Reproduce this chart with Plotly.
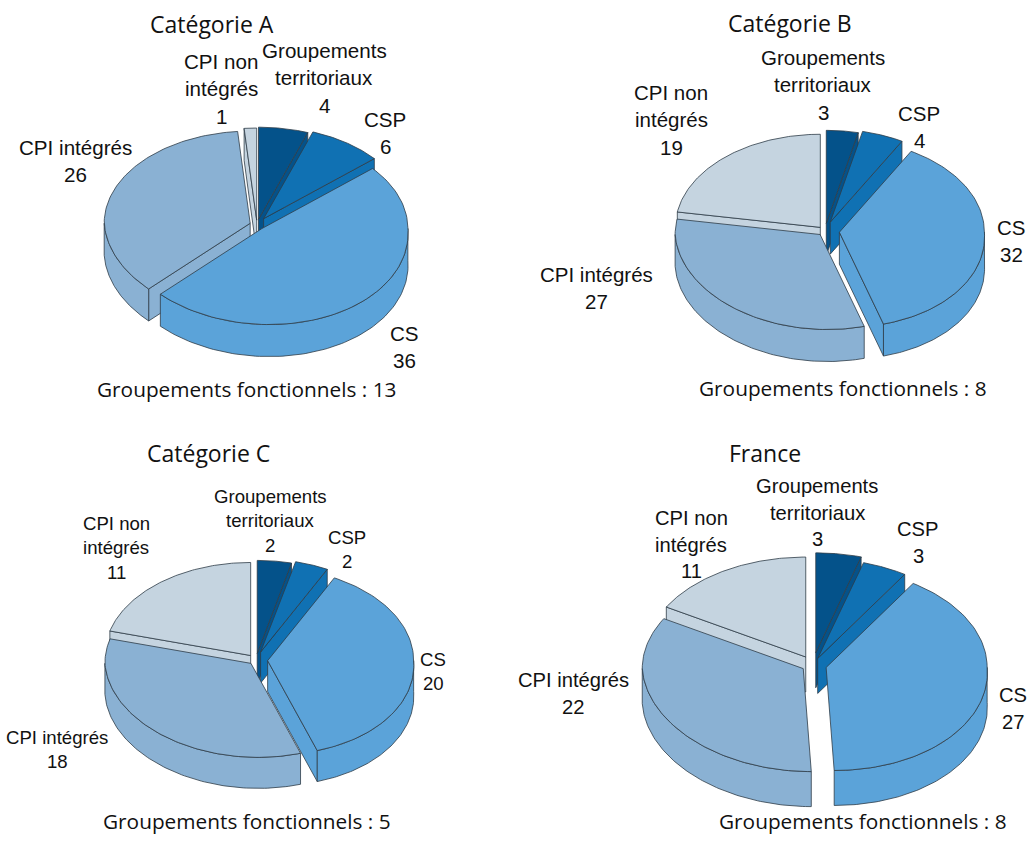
import numpy as np
import plotly.graph_objects as go

# ---- data ----
categories = ["Groupements territoriaux", "CSP", "CS", "CPI intégrés", "CPI non intégrés"]
panels = ["Catégorie A", "Catégorie B", "Catégorie C", "France"]
values_a = [4, 6, 36, 26, 1]
values_b = [3, 4, 32, 27, 19]
values_c = [2, 2, 20, 18, 11]
values_f = [3, 3, 27, 22, 11]
fonctionnels = [13, 8, 5, 8]
label_lines = [["Groupements", "territoriaux"], ["CSP"], ["CS"], ["CPI intégrés"], ["CPI non", "intégrés"]]
colors = ["#04528A", "#1071B3", "#5BA3D9", "#8AB1D3", "#C5D4E0"]
edge = "#2E3C48"

# ---- layout of each panel (pixels) ----
panel_values = [values_a, values_b, values_c, values_f]
centers = [(257, 225), (825, 231), (256, 660), (813, 665)]
radii = [(146, 96), (145, 95), (146, 94), (161, 103)]
back_factor = [0.96, 0.98, 0.99, 0.97]
lean = 0.05
depths = [32, 32, 31, 35]
explodes = [
    [0.06, 0.08, 0.05, 0.05, 0.05],
    [0.08, 0.10, 0.10, 0.05, 0.05],
    [0.07, 0.09, 0.08, 0.05, 0.06],
    [0.12, 0.07, 0.085, 0.07, 0.09],
]
title_pos = [(212, 24), (790, 23), (208, 453), (765, 453)]
foot_pos = [(247, 389), (843, 388), (247, 821), (863, 821)]
label_size = [20.6, 20.5, 18.6, 20.2]
label_gap = [27.5, 27.5, 24.5, 26.5]
label_pos = [
    [(324, 50), (385, 119), (404, 333), (75, 147), (221, 61)],
    [(823, 57), (919, 113), (1011, 227), (596, 274), (671, 92)],
    [(270, 496), (347, 537), (433, 659), (57, 737), (116, 523)],
    [(817, 486), (918, 529), (1013, 695), (573, 680), (691, 518)],
]

fig = go.Figure()


def face(xs, ys, color):
    fig.add_trace(go.Scatter(x=list(xs), y=list(ys), mode="lines", fill="toself", fillcolor=color,
                             line=dict(color=edge, width=0.8), hoverinfo="skip", showlegend=False))


def draw_pie(values, center, radius, depth, explode, back):
    cx, cy = center
    rx, ry = radius
    total = sum(values)
    angles = np.cumsum([0] + list(values)) / total * 2 * np.pi
    order = sorted(range(len(values)), key=lambda i: -np.cos((angles[i] + angles[i + 1]) / 2))

    def rim(t):
        c = np.cos(t)
        x = rx * np.sin(t) + rx * lean * np.maximum(0, -c)
        y = -ry * c * np.where(c > 0, back, 1.0)
        return x, y

    for i in order:
        a0, a1 = angles[i], angles[i + 1]
        mid = (a0 + a1) / 2
        ox = cx + rx * explode[i] * np.sin(mid)
        oy = cy - ry * explode[i] * np.cos(mid)
        th = np.linspace(a0, a1, 90)
        rxs, rys = rim(th)
        px, py = ox + rxs, oy + rys
        # cut walls facing the viewer
        if np.sin(a0) < -1e-6:
            face([ox, px[0], px[0], ox, ox], [oy, py[0], py[0] + depth, oy + depth, oy], colors[i])
        if np.sin(a1) > 1e-6:
            face([ox, px[-1], px[-1], ox, ox], [oy, py[-1], py[-1] + depth, oy + depth, oy], colors[i])
        # outer rim wall on the front half
        lo, hi = max(a0, np.pi / 2), min(a1, 3 * np.pi / 2)
        if hi > lo:
            t = np.linspace(lo, hi, 90)
            wxs, wys = rim(t)
            wx, wy = ox + wxs, oy + wys
            face(np.r_[wx, wx[::-1], wx[0]], np.r_[wy, wy[::-1] + depth, wy[0]], colors[i])
        # top face
        face(np.r_[ox, px, ox], np.r_[oy, py, oy], colors[i])


annotations = []


def text(x, y, s, size, family, color="#111111"):
    annotations.append(dict(x=x, y=y, xref="x", yref="y", text=s, showarrow=False,
                            xanchor="center", yanchor="middle",
                            font=dict(size=size, family=family, color=color)))


for p, vals in enumerate(panel_values):
    draw_pie(vals, centers[p], radii[p], depths[p], explodes[p], back_factor[p])
    text(*title_pos[p], panels[p], 23, "Open Sans")
    text(*foot_pos[p], f"Groupements fonctionnels : {fonctionnels[p]}", 20.8, "Open Sans")
    for c, (lx, ly) in enumerate(label_pos[p]):
        for k, line in enumerate(label_lines[c] + [str(vals[c])]):
            text(lx, ly + k * label_gap[p], line, label_size[p], "Liberation Sans")

fig.update_layout(
    width=1030, height=844, margin=dict(l=0, r=0, t=0, b=0),
    paper_bgcolor="white", plot_bgcolor="white", showlegend=False,
    xaxis=dict(range=[0, 1030], visible=False, fixedrange=True),
    yaxis=dict(range=[844, 0], visible=False, fixedrange=True),
    annotations=annotations,
)
fig.write_html("out.html", config={"displayModeBar": False},
               post_script="document.body.style.margin='0';document.documentElement.style.overflow='hidden';")
